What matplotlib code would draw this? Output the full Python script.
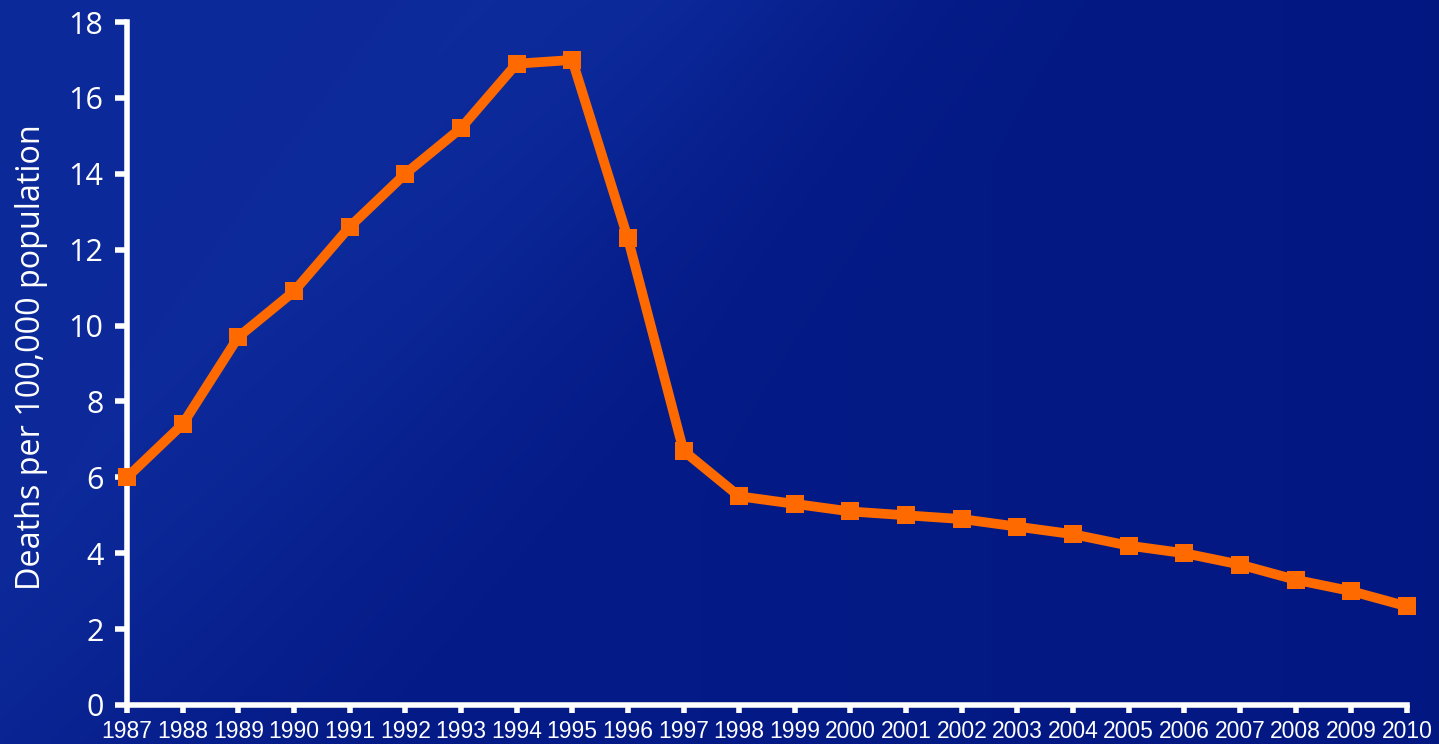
import numpy as np
import matplotlib
matplotlib.use("Agg")
import matplotlib.pyplot as plt

years = list(range(1987, 2011))
deaths = [6.0, 7.4, 9.7, 10.9, 12.6, 14.0, 15.2, 16.9, 17.0, 12.3, 6.7, 5.5,
          5.3, 5.1, 5.0, 4.9, 4.7, 4.5, 4.2, 4.0, 3.7, 3.3, 3.0, 2.6]
yticks = list(range(0, 19, 2))
ylabel = "Deaths per 100,000 population"

W, H = 1439, 744
fig = plt.figure(figsize=(W / 100, H / 100), dpi=100)

# background gradient
bg = fig.add_axes([0, 0, 1, 1], zorder=0)
yy, xx = np.mgrid[0:H, 0:W]
px = xx.astype(float)
py = (H - yy).astype(float)  # from bottom
base = np.array([4, 26, 134]) / 255.0
img = np.ones((H, W, 3)) * base
d = px - py * 0.85
w1 = np.clip(1 - (d + 150) / 650.0, 0, 1) ** 1.5
img = img + w1[..., None] * np.array([0.035, 0.06, 0.075])
w2 = np.exp(-((d - 30) / 180.0) ** 2) * np.clip(py / H, 0, 1)
img = img + w2[..., None] * np.array([0.01, 0.02, 0.03])
w3 = np.clip((px - 700) / 740.0, 0, 1)
img = img - w3[..., None] * np.array([0.005, 0.01, 0.02])
img = np.clip(img, 0, 1)
bg.imshow(img, aspect="auto", extent=[0, 1, 0, 1], origin="upper")
bg.axis("off")

ax = fig.add_axes([127 / W, 1 - 705 / H, (1407 - 127) / W, (705 - 22) / H], zorder=1)
ax.patch.set_alpha(0)
ax.plot(years, deaths, color="#ff6a00", lw=7, marker="s", ms=13.5,
        markeredgewidth=0, solid_joinstyle="miter", clip_on=False, zorder=3)
ax.set_xlim(1987, 2010)
ax.set_ylim(0, 18)
ax.set_xticks(years)
ax.set_xticklabels([str(y) for y in years], fontfamily="Liberation Sans",
                   fontsize=16.5, color="white")
ax.set_yticks(yticks)
ax.set_yticklabels([str(v) for v in yticks], fontfamily="Open Sans",
                   fontsize=22, color="white")
for s in ["top", "right"]:
    ax.spines[s].set_visible(False)
for s in ["left", "bottom"]:
    ax.spines[s].set_color("white")
    ax.spines[s].set_linewidth(4)
    ax.spines[s].set_capstyle("projecting")
ax.tick_params(axis="y", length=9, width=4, color="white", pad=8)
ax.tick_params(axis="x", length=6, width=4, color="white", pad=5)
fig.text(32 / W, 1 - 357 / H, ylabel, rotation=90, ha="center", va="center",
         fontfamily="Open Sans", fontweight="medium", fontsize=23.3, color="white")
fig.savefig("out.png", dpi=100)
